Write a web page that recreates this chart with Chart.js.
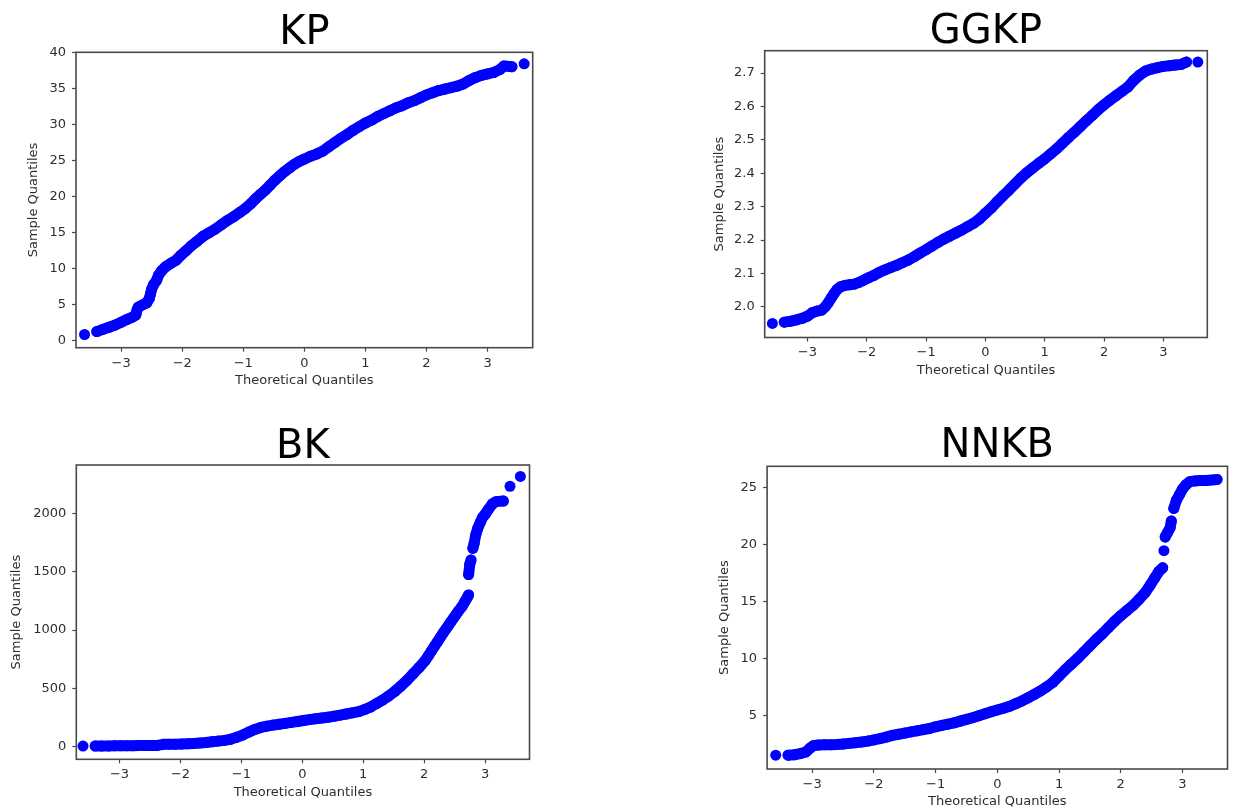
<!DOCTYPE html>
<html>
<head>
<meta charset="utf-8">
<script src="https://cdn.jsdelivr.net/npm/chart.js@4/dist/chart.umd.min.js"></script>
<style>
html,body{margin:0;padding:0;background:#fff;}
#wrap{position:relative;width:1233px;height:810px;overflow:hidden;background:#fff;}
canvas{position:absolute;}
</style>
</head>
<body>
<div id="wrap">
<canvas id="kp" width="616" height="405" style="left:0px;top:0px"></canvas>
<canvas id="ggkp" width="617" height="405" style="left:616px;top:0px"></canvas>
<canvas id="bk" width="616" height="405" style="left:0px;top:405px"></canvas>
<canvas id="nnkb" width="617" height="405" style="left:616px;top:405px"></canvas>
</div>
<script>
// ---------- data ----------
const xTicks = [-3, -2, -1, 0, 1, 2, 3];
const xTickLabels = ['\u22123', '\u22122', '\u22121', '0', '1', '2', '3'];

const kpX = [-3.60,-3.40,-3.30,-3.20,-3.10,-3.00,-2.90,-2.82,-2.76,-2.74,-2.72,-2.65,-2.58,-2.54,-2.52,-2.50,-2.47,-2.42,-2.39,-2.34,-2.27,-2.18,-2.10,-2.02,-1.94,-1.85,-1.76,-1.66,-1.56,-1.46,-1.36,-1.26,-1.16,-1.06,-0.96,-0.88,-0.80,-0.72,-0.64,-0.56,-0.48,-0.40,-0.32,-0.24,-0.16,-0.08,0.00,0.10,0.20,0.30,0.40,0.50,0.60,0.70,0.80,0.90,1.00,1.10,1.20,1.30,1.40,1.50,1.60,1.70,1.80,1.90,2.00,2.10,2.20,2.30,2.40,2.50,2.60,2.70,2.80,2.90,3.00,3.10,3.20,3.27,3.40,3.60];
const kpY = [0.9,1.3,1.6,1.9,2.2,2.6,3.0,3.3,3.6,4.3,4.7,5.0,5.3,5.9,6.5,7.2,7.8,8.4,9.1,9.7,10.3,10.8,11.2,11.9,12.5,13.2,13.8,14.5,15.0,15.5,16.1,16.7,17.2,17.8,18.4,19.0,19.7,20.3,20.9,21.6,22.3,22.9,23.5,24.0,24.5,24.9,25.2,25.6,25.9,26.3,26.9,27.5,28.1,28.6,29.2,29.7,30.2,30.6,31.1,31.5,31.9,32.3,32.6,33.0,33.3,33.7,34.1,34.4,34.7,34.9,35.1,35.3,35.6,36.1,36.5,36.8,37.0,37.2,37.6,38.1,38.0,38.4];
const kpYTicks = [0, 5, 10, 15, 20, 25, 30, 35, 40];
const kpYLabels = ['0', '5', '10', '15', '20', '25', '30', '35', '40'];

const ggkpX = [-3.59,-3.39,-3.28,-3.18,-3.08,-3.00,-2.92,-2.84,-2.76,-2.70,-2.65,-2.60,-2.55,-2.50,-2.44,-2.37,-2.29,-2.21,-2.13,-2.05,-1.97,-1.88,-1.79,-1.70,-1.60,-1.50,-1.40,-1.30,-1.20,-1.10,-1.00,-0.90,-0.80,-0.70,-0.60,-0.50,-0.40,-0.30,-0.20,-0.10,0.00,0.10,0.20,0.30,0.40,0.50,0.60,0.70,0.80,0.90,1.00,1.10,1.20,1.30,1.40,1.50,1.60,1.70,1.80,1.90,2.00,2.10,2.20,2.30,2.40,2.50,2.60,2.70,2.80,2.90,3.00,3.10,3.20,3.30,3.39,3.58];
const ggkpY = [1.950,1.954,1.957,1.961,1.966,1.972,1.982,1.987,1.990,2.000,2.012,2.026,2.040,2.052,2.060,2.064,2.066,2.068,2.073,2.080,2.087,2.094,2.103,2.110,2.117,2.124,2.132,2.140,2.150,2.161,2.171,2.182,2.193,2.203,2.212,2.221,2.230,2.240,2.250,2.263,2.280,2.296,2.315,2.333,2.350,2.368,2.386,2.402,2.416,2.430,2.443,2.458,2.473,2.490,2.507,2.523,2.540,2.557,2.573,2.590,2.605,2.619,2.632,2.645,2.658,2.678,2.694,2.706,2.712,2.716,2.720,2.722,2.724,2.726,2.733,2.733];
const ggkpYTicks = [2.0, 2.1, 2.2, 2.3, 2.4, 2.5, 2.6, 2.7];
const ggkpYLabels = ['2.0', '2.1', '2.2', '2.3', '2.4', '2.5', '2.6', '2.7'];

const bkX = [-3.60,-3.40,-3.29,-3.18,-3.08,-2.98,-2.88,-2.78,-2.68,-2.58,-2.48,-2.38,-2.28,-2.18,-2.08,-1.98,-1.88,-1.78,-1.68,-1.58,-1.48,-1.38,-1.28,-1.18,-1.08,-0.98,-0.88,-0.78,-0.68,-0.58,-0.48,-0.38,-0.28,-0.18,-0.08,0.02,0.12,0.22,0.32,0.42,0.52,0.62,0.72,0.82,0.92,1.02,1.12,1.22,1.32,1.42,1.52,1.62,1.72,1.82,1.92,2.02,2.07,2.12,2.17,2.22,2.27,2.32,2.36,2.40,2.44,2.48,2.52,2.56,2.62,2.67,2.71,2.73,2.73,2.75,2.77,2.80,2.82,2.85,2.88,2.92,2.96,3.00,3.05,3.12,3.18,3.30,3.41,3.58];
const bkY = [5,5,6,7,8,8,9,9,10,10,11,11,20,21,22,23,25,28,32,36,42,48,54,63,80,100,125,148,165,176,185,192,200,208,216,224,232,240,246,253,261,270,280,290,300,318,340,370,400,435,475,520,570,625,680,740,780,820,860,900,940,980,1010,1040,1070,1100,1130,1160,1200,1245,1280,1300,1475,1565,1600,1700,1740,1820,1870,1920,1966,1990,2030,2080,2100,2105,2232,2316];
const bkYTicks = [0, 500, 1000, 1500, 2000];
const bkYLabels = ['0', '500', '1000', '1500', '2000'];

const nnkbX = [-3.59,-3.39,-3.29,-3.19,-3.10,-3.04,-2.98,-2.90,-2.80,-2.70,-2.60,-2.50,-2.40,-2.30,-2.20,-2.10,-2.00,-1.90,-1.80,-1.70,-1.60,-1.50,-1.40,-1.30,-1.20,-1.10,-1.00,-0.90,-0.80,-0.70,-0.60,-0.50,-0.40,-0.30,-0.20,-0.10,0.00,0.10,0.20,0.30,0.40,0.50,0.60,0.70,0.80,0.90,1.00,1.10,1.20,1.30,1.40,1.50,1.60,1.70,1.80,1.90,2.00,2.10,2.20,2.30,2.40,2.48,2.55,2.62,2.68,2.70,2.72,2.76,2.80,2.82,2.86,2.90,2.95,3.00,3.06,3.12,3.20,3.28,3.39,3.56];
const nnkbY = [1.56,1.56,1.60,1.70,1.85,2.15,2.40,2.45,2.47,2.48,2.50,2.54,2.60,2.66,2.72,2.80,2.90,3.02,3.15,3.30,3.40,3.50,3.60,3.70,3.80,3.90,4.05,4.17,4.28,4.40,4.55,4.70,4.85,5.02,5.20,5.37,5.53,5.68,5.85,6.08,6.32,6.60,6.90,7.20,7.55,7.95,8.50,9.05,9.55,10.05,10.60,11.15,11.70,12.20,12.75,13.30,13.80,14.25,14.70,15.25,15.85,16.50,17.10,17.70,18.00,19.50,20.70,21.10,21.50,22.10,23.20,23.90,24.40,24.90,25.30,25.55,25.62,25.65,25.65,25.75];
const nnkbYTicks = [5, 10, 15, 20, 25];
const nnkbYLabels = ['5', '10', '15', '20', '25'];

// ---------- styling / layout ----------
const BLUE = '#0000ff';
const FONT = "'DejaVu Sans', sans-serif";
const TXT = '#2e2e2e';

const framePlugin = {
  id: 'frame',
  afterDraw(chart) {
    const a = chart.chartArea, c = chart.ctx;
    c.save();
    c.strokeStyle = '#4a4a4a';
    c.lineWidth = 1.6;
    c.strokeRect(a.left, a.top, a.right - a.left, a.bottom - a.top);
    c.restore();
  }
};

function gapColor(ctx) {
  const d = Math.hypot(ctx.p1.x - ctx.p0.x, ctx.p1.y - ctx.p0.y);
  return d > 11 ? 'rgba(0,0,0,0)' : undefined;
}

function makeChart(id, title, xs, ys, yTicks, yLabels, L) {
  const pts = xs.map((x, i) => ({x: x, y: ys[i]}));
  return new Chart(document.getElementById(id), {
    type: 'scatter',
    data: {
      datasets: [{
        data: pts,
        showLine: true,
        borderColor: BLUE,
        backgroundColor: BLUE,
        borderWidth: 11,
        borderCapStyle: 'round',
        borderJoinStyle: 'round',
        pointRadius: 5.5,
        pointHoverRadius: 5.5,
        pointBorderWidth: 0,
        tension: 0,
        segment: {borderColor: gapColor}
      }]
    },
    options: {
      responsive: false,
      animation: false,
      events: [],
      devicePixelRatio: 1,
      layout: {padding: {left: 0, right: L.padR, top: 0, bottom: L.padB}},
      plugins: {
        legend: {display: false},
        tooltip: {enabled: false},
        title: {
          display: true,
          text: title,
          fullSize: false,
          color: '#000000',
          font: {family: FONT, size: 40, weight: 'normal', lineHeight: 0.85},
          padding: {top: L.tTop, bottom: L.tBot}
        }
      },
      scales: {
        x: {
          type: 'linear',
          position: 'bottom',
          min: L.xMin, max: L.xMax,
          afterBuildTicks: s => { s.ticks = xTicks.map(v => ({value: v})); },
          afterFit: s => { s.height = L.xH; },
          ticks: {
            autoSkip: false, maxRotation: 0, padding: 3.7,
            color: TXT, font: {family: FONT, size: 13},
            callback: (v, i) => xTickLabels[i]
          },
          grid: {display: true, drawOnChartArea: false, drawTicks: true, tickLength: 4, color: '#4a4a4a', tickColor: '#4a4a4a', tickWidth: 1.2},
          border: {display: false},
          title: {display: true, text: 'Theoretical Quantiles', color: TXT, font: {family: FONT, size: 13}, padding: {top: 0, bottom: L.xtPad}}
        },
        y: {
          type: 'linear',
          position: 'left',
          min: L.yMin, max: L.yMax,
          afterBuildTicks: s => { s.ticks = yTicks.map(v => ({value: v})); },
          afterFit: s => { s.width = L.yW; },
          ticks: {
            autoSkip: false, padding: 6,
            color: TXT, font: {family: FONT, size: 13},
            callback: (v, i) => yLabels[i]
          },
          grid: {display: true, drawOnChartArea: false, drawTicks: true, tickLength: 4, color: '#4a4a4a', tickColor: '#4a4a4a', tickWidth: 1.2},
          border: {display: false},
          title: {display: true, text: 'Sample Quantiles', color: TXT, font: {family: FONT, size: 13}, padding: {top: L.ytPad, bottom: 0}}
        }
      }
    },
    plugins: [framePlugin]
  });
}

makeChart('kp', 'KP', kpX, kpY, kpYTicks, kpYLabels,
  {xMin: -3.74, xMax: 3.74, yMin: -0.93, yMax: 40.0, padR: 83.3, padB: 7.3, tTop: 16.5, tBot: 1.8, xH: 50, yW: 76, xtPad: 9.2, ytPad: 26.2});
makeChart('ggkp', 'GGKP', ggkpX, ggkpY, ggkpYTicks, ggkpYLabels,
  {xMin: -3.72, xMax: 3.74, yMin: 1.908, yMax: 2.767, padR: 25.7, padB: 17.5, tTop: 16, tBot: 0.7, xH: 50, yW: 148.7, xtPad: 9.2, ytPad: 96.2});
makeChart('bk', 'BK', bkX, bkY, bkYTicks, bkYLabels,
  {xMin: -3.71, xMax: 3.73, yMin: -108, yMax: 2414, padR: 86.5, padB: 0.7, tTop: 25.5, tBot: 0.5, xH: 50, yW: 76.3, xtPad: 9.2, ytPad: 9.2});
makeChart('nnkb', 'NNKB', nnkbX, nnkbY, nnkbYTicks, nnkbYLabels,
  {xMin: -3.73, xMax: 3.73, yMin: 0.35, yMax: 26.9, padR: 3.3, padB: 0, tTop: 24.6, tBot: 2.7, xH: 41, yW: 151.1, xtPad: 0.2, ytPad: 100.8});
</script>
</body>
</html>
